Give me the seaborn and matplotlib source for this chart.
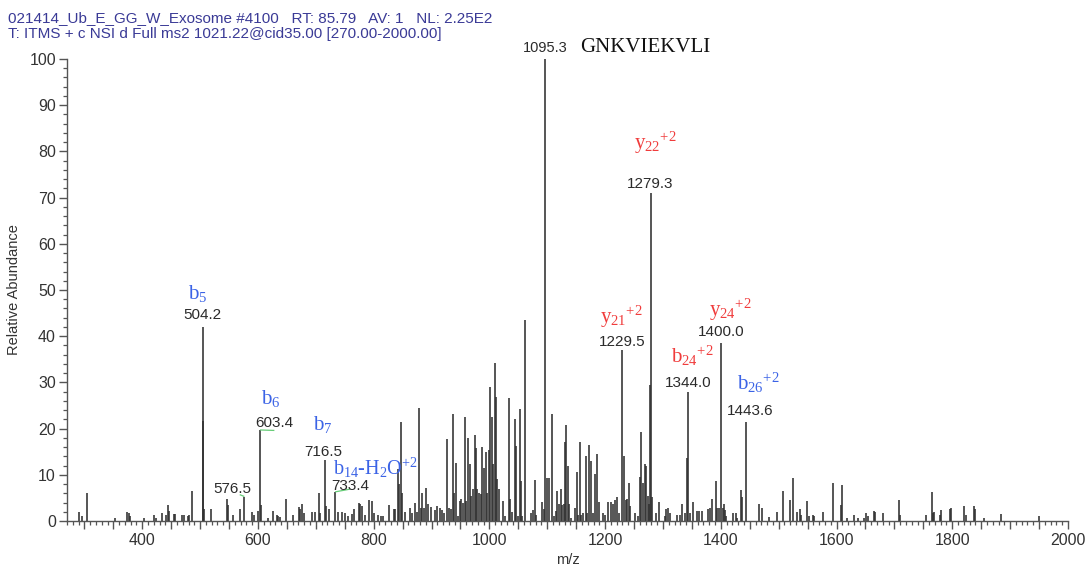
import matplotlib
matplotlib.use("Agg")
import matplotlib.pyplot as plt
from matplotlib.ticker import MultipleLocator, FuncFormatter
import seaborn as sns

# --- MS2 spectrum: centroid peaks (m/z, relative abundance %) ---
mz = [291.0, 296.7, 304.3, 353.3, 373.5, 376.3, 379.2, 402.3, 420.8, 423.7,
      433.4, 441.0, 445.0, 446.7, 454.2, 456.5, 468.6, 472.7, 478.4, 481.3,
      485.3, 504.2, 505.4, 507.0, 518.8, 546.5, 548.8, 556.2, 569.6, 576.5,
      589.7, 593.8, 599.5, 603.4, 605.3, 618.0, 626.6, 632.4, 635.3, 638.8,
      648.6, 660.0, 670.4, 672.8, 676.3, 680.3, 692.9, 698.8, 705.0, 708.0,
      716.5, 717.8, 722.3, 733.4, 737.9, 745.5, 751.2, 755.9, 762.8, 766.8,
      774.2, 777.2, 780.1, 785.8, 792.7, 796.7, 801.4, 807.1, 811.8, 815.7,
      826.1, 834.3, 837.7, 841.7, 844.6, 848.0, 849.3, 855.0, 862.0, 866.6,
      871.8, 875.3, 878.0, 881.0, 883.9, 886.7, 890.8, 893.7, 898.3, 905.2,
      909.8, 913.8, 917.8, 921.3, 927.2, 929.9, 932.9, 936.9, 938.6, 942.7,
      946.2, 948.4, 951.4, 954.2, 957.1, 958.8, 962.8, 965.7, 968.7, 971.5,
      974.4, 976.1, 979.1, 981.8, 984.8, 987.1, 990.5, 993.4, 995.7, 998.6,
      1001.6, 1003.8, 1006.7, 1009.0, 1010.7, 1013.0, 1016.4, 1023.4, 1026.3, 1033.2,
      1034.9, 1039.6, 1043.6, 1046.5, 1049.3, 1052.2, 1054.0, 1056.9, 1061.4, 1072.4,
      1075.3, 1078.2, 1081.1, 1090.8, 1093.8, 1095.3, 1099.6, 1103.1, 1108.3, 1111.1,
      1115.7, 1117.4, 1120.3, 1123.2, 1126.1, 1128.9, 1131.3, 1133.0, 1135.9, 1137.6,
      1141.7, 1147.4, 1150.9, 1153.1, 1156.1, 1159.0, 1161.8, 1166.4, 1169.4, 1172.2,
      1175.6, 1179.1, 1182.0, 1186.0, 1189.5, 1196.4, 1199.3, 1205.1, 1209.7, 1213.7,
      1217.8, 1221.3, 1223.5, 1229.5, 1232.2, 1235.6, 1237.9, 1240.8, 1243.8, 1251.2,
      1256.9, 1261.0, 1262.8, 1265.6, 1268.5, 1271.4, 1274.3, 1276.0, 1277.2, 1279.3,
      1281.8, 1288.7, 1293.3, 1303.1, 1306.0, 1308.9, 1311.8, 1325.1, 1329.1, 1333.7,
      1337.7, 1341.7, 1344.0, 1346.4, 1352.1, 1359.0, 1362.5, 1366.6, 1378.0, 1381.0,
      1385.6, 1390.8, 1393.6, 1396.5, 1400.0, 1402.9, 1405.7, 1407.0, 1409.8, 1421.3,
      1425.4, 1428.2, 1434.1, 1436.9, 1443.6, 1466.3, 1470.4, 1483.6, 1497.4, 1506.7,
      1519.4, 1524.0, 1532.0, 1536.7, 1538.4, 1548.8, 1552.2, 1558.6, 1560.9, 1577.0,
      1594.3, 1607.6, 1609.9, 1617.5, 1630.1, 1637.6, 1647.4, 1650.9, 1653.8, 1664.2,
      1666.4, 1680.8, 1708.0, 1709.7, 1754.2, 1764.5, 1766.2, 1769.0, 1778.9, 1780.6,
      1796.2, 1797.9, 1820.4, 1823.9, 1838.2, 1840.0, 1855.0, 1883.9, 1950.7]

abundance = [2.0, 1.1, 6.1, 0.7, 1.9, 1.7, 1.1, 0.6, 1.4, 0.7,
             1.8, 1.2, 3.4, 2.2, 1.6, 1.6, 1.4, 1.2, 1.1, 1.4,
             6.5, 42.0, 21.6, 2.7, 2.5, 4.7, 3.4, 1.3, 2.5, 5.3,
             1.9, 1.2, 2.2, 19.7, 3.4, 0.7, 2.2, 1.2, 1.1, 0.9,
             4.7, 1.3, 3.0, 2.7, 3.6, 1.8, 2.0, 2.0, 6.0, 1.8,
             13.2, 3.2, 2.5, 6.3, 2.0, 2.0, 1.8, 1.1, 1.6, 2.5,
             4.0, 3.6, 3.2, 1.4, 4.5, 4.3, 1.8, 1.4, 1.1, 1.1,
             3.4, 2.7, 2.7, 11.2, 7.9, 21.5, 6.1, 1.9, 2.9, 1.8,
             3.8, 1.9, 24.5, 2.9, 6.1, 2.9, 7.2, 3.6, 3.1, 2.4,
             3.2, 2.9, 2.4, 1.8, 17.7, 2.9, 2.5, 23.2, 6.1, 12.5,
             1.1, 4.3, 4.7, 4.0, 22.4, 4.3, 17.9, 12.3, 5.4, 6.9,
             18.6, 15.7, 7.0, 6.1, 5.8, 16.1, 11.5, 14.9, 6.1, 15.3,
             28.9, 22.4, 12.3, 34.3, 26.9, 9.0, 6.9, 4.3, 1.1, 26.7,
             4.7, 1.9, 22.0, 16.2, 1.1, 24.2, 8.7, 1.1, 43.5, 1.8,
             2.4, 8.8, 1.4, 4.1, 2.5, 100.0, 9.2, 9.2, 23.2, 1.1,
             2.2, 6.5, 3.6, 7.0, 3.4, 3.6, 17.0, 20.7, 11.9, 3.6,
             0.7, 2.9, 10.6, 1.4, 17.2, 1.4, 1.8, 14.1, 1.8, 16.5,
             13.0, 1.8, 10.1, 14.4, 4.1, 1.8, 1.4, 4.1, 4.1, 3.6,
             4.5, 5.1, 1.8, 37.0, 14.1, 4.5, 4.7, 8.2, 3.2, 1.8,
             1.1, 9.5, 19.3, 8.2, 12.3, 11.8, 5.4, 3.6, 29.4, 71.1,
             5.1, 1.8, 4.1, 1.1, 2.5, 2.9, 1.8, 1.4, 1.4, 3.6,
             1.8, 13.7, 27.9, 1.8, 4.1, 2.2, 2.2, 2.2, 2.5, 2.9,
             4.7, 8.7, 2.9, 2.9, 38.6, 2.9, 3.6, 2.4, 1.1, 1.8,
             1.8, 0.7, 6.7, 5.3, 21.5, 3.6, 2.9, 0.9, 1.9, 6.4,
             4.5, 9.4, 1.9, 2.7, 1.2, 4.3, 1.1, 1.4, 1.1, 1.9,
             8.3, 3.4, 7.7, 0.7, 1.2, 0.7, 0.6, 1.8, 1.1, 2.2,
             1.9, 1.7, 4.5, 1.4, 1.4, 6.3, 1.8, 1.9, 1.2, 2.4,
             2.7, 2.9, 3.2, 1.4, 3.2, 2.7, 0.7, 1.6, 1.1]

# --- annotated fragment ions ---
ion_mz = [504.2, 603.4, 716.5, 733.4, 1229.5, 1279.3, 1344.0, 1400.0, 1443.6]
ion_names = ["b$_{\\mathregular{5}}$", "b$_{\\mathregular{6}}$", "b$_{\\mathregular{7}}$",
             "b$_{\\mathregular{14}}$-H$_{\\mathregular{2}}$O$^{\\mathregular{+2}}$",
             "y$_{\\mathregular{21}}$$^{\\mathregular{+2}}$",
             "y$_{\\mathregular{22}}$$^{\\mathregular{+2}}$",
             "b$_{\\mathregular{24}}$$^{\\mathregular{+2}}$",
             "y$_{\\mathregular{24}}$$^{\\mathregular{+2}}$",
             "b$_{\\mathregular{26}}$$^{\\mathregular{+2}}$"]
ion_series = ["b", "b", "b", "b", "y", "y", "y", "y", "b"]
peptide = "GNKVIEKVLI"

header1 = "021414_Ub_E_GG_W_Exosome #4100   RT: 85.79   AV: 1   NL: 2.25E2"
header2 = "T: ITMS + c NSI d Full ms2 1021.22@cid35.00 [270.00-2000.00]"

sns.set_theme(style="ticks")
plt.rcParams["font.family"] = ["Liberation Sans", "DejaVu Sans"]
plt.rcParams["mathtext.fontset"] = "custom"
plt.rcParams["mathtext.rm"] = "Liberation Serif"
plt.rcParams["mathtext.it"] = "Liberation Serif:italic"
plt.rcParams["mathtext.bf"] = "Liberation Serif:bold"

fig = plt.figure(figsize=(10.88, 5.65), dpi=100)
ax = fig.add_axes([0.0616, 0.0779, 0.920, 0.8177])

ax.vlines(mz, 0, abundance, color="#303030", linewidth=1.15)

ax.set_xlim(270, 2000)
ax.set_ylim(0, 100)
sns.despine(ax=ax)
for s in ("left", "bottom"):
    ax.spines[s].set_color("#555555")
    ax.spines[s].set_linewidth(1.0)

ax.yaxis.set_major_locator(MultipleLocator(10))
ax.yaxis.set_minor_locator(MultipleLocator(2))
ax.xaxis.set_major_locator(MultipleLocator(50))
ax.xaxis.set_minor_locator(MultipleLocator(10))
ax.xaxis.set_major_formatter(FuncFormatter(
    lambda v, p: f"{int(round(v))}" if round(v) % 200 == 0 else ""))
ax.tick_params(axis="both", which="major", length=6, width=1.0, color="#555555",
               labelsize=11.5, labelcolor="#333333", pad=2)
ax.tick_params(axis="both", which="minor", length=3, width=0.9, color="#555555")
ax.tick_params(axis="x", which="major", pad=3)

ax.set_xlabel("m/z", fontsize=10.5, color="#333333", labelpad=3)
ax.set_ylabel("Relative Abundance", fontsize=10.5, color="#333333", labelpad=6)

blue = "#3b63e6"
red = "#f03c3c"
serif = ["Liberation Serif", "DejaVu Serif"]
num_kw = dict(fontsize=11, color="#2b2b2b", ha="center", va="center")
ion_kw = dict(fontsize=15, family=serif, ha="center", va="center")

peak = dict(zip(mz, abundance))

# label offsets (m/z shift, abundance of label centre) for each annotated ion
num_pos = {504.2: (-0.4, 44.6), 603.4: (25.0, 21.3), 716.5: (-3.5, 15.0),
           733.4: (26.5, 7.6), 1229.5: (0.4, 38.8), 1279.3: (-2.1, 72.9),
           1344.0: (-0.5, 29.9), 1400.0: (1.2, 40.8), 1443.6: (6.6, 23.7)}
name_pos = {504.2: (-8.5, 49.3), 603.4: (19.2, 26.6), 716.5: (-4.5, 20.8),
            733.4: (-4.4, 11.4), 1229.5: (-1.3, 44.2), 1279.3: (8.2, 81.8),
            1344.0: (7.0, 35.7), 1400.0: (15.6, 45.7), 1443.6: (20.9, 29.8)}

for m, name, ser in zip(ion_mz, ion_names, ion_series):
    dx, y = num_pos[m]
    ax.text(m + dx, y, f"{m:.1f}", **num_kw)
    nx, ny = name_pos[m]
    col = blue if ser == "b" else red
    if m == 733.4:
        ax.text(m + nx, ny, name, color=col, fontsize=14.5, family=serif,
                ha="left", va="center")
    else:
        ax.text(m + nx, ny, name, color=col, **ion_kw)

ax.text(576.5 - 21.3, 6.9, "576.5", **num_kw)
ax.text(1095.3 + 1.9, 102.3, "1095.3", fontsize=10.5, color="#2b2b2b",
        ha="center", va="center")
ax.text(1156, 102.4, peptide, fontsize=15, family=serif, color="#111111",
        ha="left", va="center")

# green connector lines from labels to their peaks
green = "#66cc77"
for m, lab_dx, lab_y in [(576.5, -8.0, 5.7), (603.4, 25.0, 19.6), (733.4, 26.0, 6.9)]:
    top = peak[m]
    ax.plot([m, m + lab_dx], [top, lab_y], color=green, linewidth=0.9,
            solid_capstyle="butt")

fig.text(0.007, 0.968, header1, fontsize=11, color="#3a3a96", ha="left", va="center")
fig.text(0.007, 0.940, header2, fontsize=11, color="#3a3a96", ha="left", va="center")

fig.savefig("out.png", dpi=100)
